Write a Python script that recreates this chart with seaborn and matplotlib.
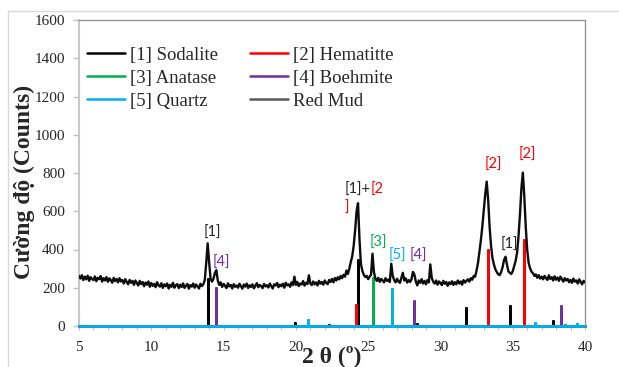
import numpy as np
import pandas as pd
import matplotlib
matplotlib.use("Agg")
import matplotlib.pyplot as plt
from matplotlib.lines import Line2D
import seaborn as sns

# ---------------- data ----------------
two_theta_start = 5.0
two_theta_step = 0.1
red_mud_counts = [
    262, 248, 266, 240, 258, 244, 263, 236, 255, 247,   # 5.x
    240, 259, 234, 252, 245, 261, 232, 250, 238, 256,   # 6.x
    231, 249, 240, 226, 252, 235, 246, 228, 250, 233,   # 7.x
    240, 222, 245, 230, 218, 241, 226, 236, 215, 238,   # 8.x
    224, 212, 236, 219, 230, 208, 227, 216, 233, 205,   # 9.x
    225, 210, 220, 203, 229, 212, 206, 224, 199, 218,   # 10.x
    208, 222, 196, 215, 205, 226, 200, 213, 219, 198,   # 11.x
    216, 204, 223, 199, 211, 220, 195, 214, 206, 222,   # 12.x
    200, 217, 207, 196, 221, 209, 218, 240, 330, 432,   # 13.x
    335, 248, 232, 246, 278, 292, 238, 215, 228, 204,   # 14.x
    220, 210, 198, 223, 207, 215, 196, 219, 205, 212,   # 15.x
    200, 221, 208, 195, 217, 206, 222, 199, 213, 204,   # 16.x
    218, 197, 211, 224, 203, 215, 208, 198, 220, 207,   # 17.x
    213, 201, 222, 209, 196, 218, 212, 225, 203, 216,   # 18.x
    208, 221, 200, 226, 212, 218, 205, 228, 214, 258,   # 19.x
    215, 230, 209, 222, 217, 235, 211, 226, 219, 265,   # 20.x
    222, 214, 233, 218, 228, 212, 236, 221, 230, 216,   # 21.x
    238, 225, 219, 241, 230, 246, 228, 251, 238, 255,   # 22.x
    244, 262, 250, 268, 258, 290, 272, 300, 335, 365,   # 23.x
    420, 500, 600, 642, 455, 325, 288, 268, 256, 262,   # 24.x
    245, 258, 268, 378, 282, 248, 236, 252, 231, 246,   # 25.x
    238, 228, 250, 236, 243, 230, 326, 262, 240, 228,   # 26.x
    247, 232, 226, 252, 278, 238, 249, 227, 240, 230,   # 27.x
    245, 283, 268, 232, 212, 238, 226, 245, 222, 236,   # 28.x
    218, 240, 228, 322, 252, 231, 222, 238, 216, 233,   # 29.x
    225, 214, 236, 221, 230, 210, 228, 219, 234, 215,   # 30.x
    229, 218, 238, 222, 233, 216, 240, 227, 236, 244,   # 31.x
    232, 250, 242, 262, 258, 290, 330, 388, 450, 522,   # 32.x
    605, 690, 755, 662, 520, 420, 355, 322, 296, 282,   # 33.x
    270, 266, 282, 308, 345, 362, 322, 286, 278, 272,   # 34.x
    286, 312, 340, 382, 468, 582, 718, 802, 680, 520,   # 35.x
    400, 330, 302, 284, 276, 262, 270, 252, 266, 248,   # 36.x
    258, 244, 262, 250, 241, 265, 246, 255, 238, 260,   # 37.x
    242, 253, 236, 258, 245, 232, 250, 238, 246, 229,   # 38.x
    241, 226, 248, 232, 238, 222, 244, 230, 218, 236,   # 39.x
    228,                                                # 40.0
]

sodalite_pos = [13.9, 19.94, 22.31, 24.3, 28.38, 31.74, 34.83, 37.8]
sodalite_int = [250, 20, 8, 350, 17, 97, 112, 30]
hematite_pos = [24.15, 33.29, 35.76]
hematite_int = [113, 403, 454]
anatase_pos = [25.33, 38.6]
anatase_int = [255, 12]
boehmite_pos = [14.47, 28.19, 38.33]
boehmite_int = [203, 135, 110]
quartz_pos = [20.86, 26.65, 36.55, 39.44]
quartz_int = [35, 200, 20, 17]

series_labels = ["[1] Sodalite", "[2] Hematitte", "[3] Anatase",
                 "[4] Boehmite", "[5] Quartz", "Red Mud"]

x_ticks = [5, 10, 15, 20, 25, 30, 35, 40]
y_ticks = [0, 200, 400, 600, 800, 1000, 1200, 1400, 1600]

# ---------------- style ----------------
sns.set_style("white")
plt.rcParams["font.family"] = ["Liberation Serif", "DejaVu Serif"]

C_BLACK = "#000000"
C_RED = "#ff0000"
C_GREEN = "#00b050"
C_PURPLE = "#7030a0"
C_BLUE = "#00b0f0"

W, H = 619, 367
fig = plt.figure(figsize=(W / 100, H / 100), dpi=100)
ax = fig.add_axes([79 / W, 1 - 326 / H, (585 - 79) / W, (326 - 20) / H])

x_min, x_max = 5, 40


def stick_frame(pos, inten):
    xs, ys = [x_min], [0]
    for p, h in sorted(zip(pos, inten)):
        xs += [p, p, p]
        ys += [0, h, 0]
    xs.append(x_max)
    ys.append(0)
    return pd.DataFrame({"x": xs, "y": ys})


sticks = [
    (sodalite_pos, sodalite_int, C_BLACK, series_labels[0]),
    (hematite_pos, hematite_int, C_RED, series_labels[1]),
    (anatase_pos, anatase_int, C_GREEN, series_labels[2]),
    (boehmite_pos, boehmite_int, C_PURPLE, series_labels[3]),
    (quartz_pos, quartz_int, C_BLUE, series_labels[4]),
]
for pos, inten, col, lab in sticks:
    df = stick_frame(pos, inten)
    lw = 2.0 if col == C_BLUE else 1.8
    sns.lineplot(data=df, x="x", y="y", estimator=None, sort=False,
                 color=col, lw=lw, label=lab, ax=ax, zorder=4,
                 solid_joinstyle="miter", clip_on=False)

n = len(red_mud_counts)
mud = pd.DataFrame({"x": two_theta_start + two_theta_step * np.arange(n),
                    "y": red_mud_counts})
sns.lineplot(data=mud, x="x", y="y", estimator=None, sort=False,
             color="#0d0d0d", lw=1.7, label=series_labels[5], ax=ax, zorder=5)

ax.set_xlim(x_min, x_max)
ax.set_ylim(0, 1600)
ax.set_xticks(x_ticks)
ax.set_xticks(np.arange(5, 41, 1), minor=True)
ax.set_yticks(y_ticks)

for s in ["top", "right"]:
    ax.spines[s].set_color("#8c8c8c")
    ax.spines[s].set_linewidth(0.9)
ax.spines["left"].set_color("#c8c8c8")
ax.spines["left"].set_linewidth(1.5)
ax.spines["bottom"].set_color("#c8c8c8")
ax.spines["bottom"].set_linewidth(1.0)

ax.tick_params(axis="y", which="major", direction="out", length=4,
               width=1, color="#bfbfbf", labelsize=11, pad=6, left=True)
ax.tick_params(axis="x", which="both", direction="out", length=3,
               width=0.8, color="#bfbfbf", labelsize=11, pad=8, bottom=True)

ax.set_xlabel("2 θ (º)", fontsize=17, fontweight="bold", va="center")
ax.set_ylabel("Cường độ (Counts)", fontsize=17, fontweight="bold")
ax.yaxis.set_label_coords(-0.086, 0.47)
ax.xaxis.set_label_coords(0.5, -0.097)

# legend
handles, labels = ax.get_legend_handles_labels()
order = [0, 2, 4, 1, 3, 5]
leg = ax.legend([handles[i] for i in order], [labels[i] for i in order],
                ncol=2, loc="upper left", bbox_to_anchor=(0.016, 0.912),
                frameon=False, fontsize=13.5, handlelength=2.0,
                handletextpad=0.3, columnspacing=1.7, labelspacing=0.3,
                borderpad=0, borderaxespad=0)
for ln in leg.get_lines():
    ln.set_linewidth(1.8)
    ln.set_clip_on(True)
leg.get_lines()[5].set_color("#595959")

# annotations
afont = dict(family=["Lato", "DejaVu Sans"], fontsize=10.5)
ann = [
    ("[1]", 14.25, 486, "#262626"),
    ("[4]", 14.85, 328, C_PURPLE),
    ("[3]", 25.7, 435, C_GREEN),
    ("[5]", 27.0, 366, C_BLUE),
    ("[4]", 28.5, 366, C_PURPLE),
    ("[1]", 34.8, 424, "#262626"),
    ("[2]", 33.66, 843, C_RED),
    ("[2]", 36.0, 895, C_RED),
]
for t, xx, yy, c in ann:
    ax.text(xx, yy, t, color=c, ha="center", va="center", **afont)
t1 = ax.text(23.4, 712, "[1]+", color="#262626", ha="left", va="center",
             **afont)
ax.annotate("[2", xy=(1, 0.5), xycoords=t1, color=C_RED, ha="left",
            va="center", **afont)
ax.text(23.4, 617, "]", color=C_RED, ha="left", va="center", **afont)

# outer chart frame (partially visible)
fig.add_artist(Line2D([8 / W, 8 / W], [0, 1 - 11 / H], color="#d9d9d9",
                      lw=1.0, transform=fig.transFigure))
fig.add_artist(Line2D([8 / W, 1], [1 - 11 / H, 1 - 11 / H], color="#d9d9d9",
                      lw=1.0, transform=fig.transFigure))

fig.savefig("out.png", dpi=100, facecolor="white")
